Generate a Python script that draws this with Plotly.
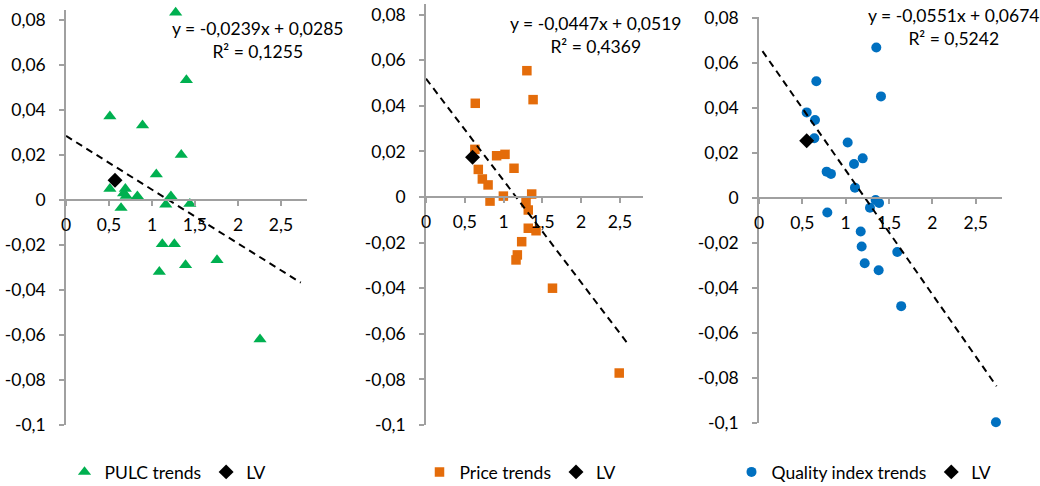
import plotly.graph_objects as go

# ---------------- data ----------------
pulc_x = [1.275, 1.40, 0.51, 0.89, 1.34, 1.05, 0.51, 0.69, 0.70, 0.67, 0.83, 0.64, 1.16, 1.22, 1.44,
          1.12, 1.26, 1.085, 1.39, 1.756, 2.256]
pulc_y = [0.0833, 0.0533, 0.0372, 0.0332, 0.0201, 0.0114, 0.0050, 0.0050, 0.0018, 0.0030, 0.0017,
          -0.0035, -0.0020, 0.0017, -0.0017, -0.0196, -0.0196, -0.0319, -0.0289, -0.0267, -0.0619]
pulc_lv_x = [0.57]
pulc_lv_y = [0.0088]

price_x = [1.30, 1.38, 0.635, 0.63, 0.91, 1.018, 0.674, 1.134, 0.726, 0.80, 0.997, 1.362, 0.825,
           1.289, 1.318, 1.318, 1.418, 1.233, 1.177, 1.16, 1.63, 2.49]
price_y = [0.0554, 0.0427, 0.0411, 0.0209, 0.0181, 0.0187, 0.0121, 0.0126, 0.0079, 0.0053, 0.0004,
           0.0013, -0.0018, -0.0025, -0.0057, -0.0137, -0.0148, -0.0196, -0.0254, -0.0276, -0.0400, -0.0772]
price_lv_x = [0.60]
price_lv_y = [0.0174]

qual_x = [1.353, 1.407, 0.661, 0.55, 0.646, 0.638, 1.023, 1.196, 1.096, 0.78, 0.83, 1.107, 1.345,
          1.385, 1.28, 0.788, 1.173, 1.184, 1.219, 1.38, 1.595, 1.64, 2.733]
qual_y = [0.0668, 0.0451, 0.0518, 0.0380, 0.0346, 0.0265, 0.0246, 0.0176, 0.0151, 0.0117, 0.0107,
          0.0046, -0.0009, -0.0022, -0.0043, -0.0064, -0.0149, -0.0215, -0.0290, -0.0321, -0.0240,
          -0.0480, -0.0995]
qual_lv_x = [0.55]
qual_lv_y = [0.0254]

# trendlines (Excel linear fits shown on chart)
trend_slope = [-0.0239, -0.0447, -0.0551]
trend_icept = [0.0285, 0.0519, 0.0674]
trend_xrange = [[0.0, 2.73], [0.0, 2.59], [0.04, 2.74]]
trend_text = ["y = -0,0239x + 0,0285<br>R² = 0,1255",
              "y = -0,0447x + 0,0519<br>R² = 0,4369",
              "y = -0,0551x + 0,0674<br>R² = 0,5242"]

series_names = ["PULC trends", "Price trends", "Quality index trends"]
lv_name = "LV"

x_tickvals = [0, 0.5, 1, 1.5, 2, 2.5]
x_ticktext = ["0", "0,5", "1", "1,5", "2", "2,5"]
y_tickvals = [-0.1, -0.08, -0.06, -0.04, -0.02, 0, 0.02, 0.04, 0.06, 0.08]
y_ticktext = ["-0,1", "-0,08", "-0,06", "-0,04", "-0,02", "0", "0,02", "0,04", "0,06", "0,08"]

# ---------------- style / layout ----------------
W, H = 1040, 486
FONT = "Lato"
FS = 17.5
AXIS_COLOR = "#A0A0A0"
TEXT_COLOR = "#000000"

colors = ["#00B050", "#E46C0A", "#0070C0"]
symbols = ["triangle-up", "square", "circle"]
msizes = [11.5, 9.5, 10]

# pixel geometry of each panel: x-origin px, px per x unit, y-zero px, px per y unit, ymax
geo = [
    dict(x0=66, xs=86.0, y0=200, ys=2250, ymax=0.0845),
    dict(x0=426, xs=77.6, y0=197, ys=2280, ymax=0.0845),
    dict(x0=759, xs=86.7, y0=198, ys=2253, ymax=0.0805),
]
XMAX, YMIN = 2.8, -0.1

eq_pos = [(257, 40), (595.5, 35), (953, 27)]
legend_cx = [168, 520, 864]

data_sets = [(pulc_x, pulc_y, pulc_lv_x, pulc_lv_y),
             (price_x, price_y, price_lv_x, price_lv_y),
             (qual_x, qual_y, qual_lv_x, qual_lv_y)]

fig = go.Figure()
layout_axes = {}
annotations = []
legends = {}

for i, (sx, sy, lx, ly) in enumerate(data_sets):
    n = "" if i == 0 else str(i + 1)
    xa, ya = "x" + n, "y" + n
    lg = "legend" + n
    g = geo[i]

    fig.add_trace(go.Scatter(
        x=sx, y=sy, mode="markers", name=series_names[i], xaxis=xa, yaxis=ya, legend=lg,
        marker=dict(symbol=symbols[i], size=msizes[i], color=colors[i], line=dict(width=0)),
        cliponaxis=False))
    fig.add_trace(go.Scatter(
        x=lx, y=ly, mode="markers", name=lv_name, xaxis=xa, yaxis=ya, legend=lg,
        marker=dict(symbol="diamond", size=11.5, color="#000000", line=dict(width=0)),
        cliponaxis=False))
    tx = trend_xrange[i]
    ty = [trend_slope[i] * v + trend_icept[i] for v in tx]
    fig.add_trace(go.Scatter(
        x=tx, y=ty, mode="lines", showlegend=False, xaxis=xa, yaxis=ya, hoverinfo="skip",
        line=dict(color="#000000", width=2, dash="7px,5px"), cliponaxis=False))

    xd = [g["x0"] / W, (g["x0"] + XMAX * g["xs"]) / W]
    ybot_px = g["y0"] - YMIN * g["ys"]
    ytop_px = g["y0"] - g["ymax"] * g["ys"]
    yd = [(H - ybot_px) / H, (H - ytop_px) / H]
    xpos = (H - g["y0"]) / H

    layout_axes["xaxis" + n] = dict(
        domain=xd, range=[0, XMAX], anchor="free", position=xpos,
        tickvals=x_tickvals, ticktext=x_ticktext, showgrid=False, zeroline=False,
        showline=True, linecolor=AXIS_COLOR, linewidth=1.5,
        ticks="outside", ticklen=5, tickwidth=1.5, tickcolor=AXIS_COLOR,
        ticklabelstandoff=4, automargin=False,
        tickfont=dict(family=FONT, size=FS, color=TEXT_COLOR), fixedrange=True)
    layout_axes["yaxis" + n] = dict(
        domain=yd, range=[YMIN, g["ymax"]], anchor=xa,
        tickvals=y_tickvals, ticktext=y_ticktext, showgrid=False, zeroline=False,
        showline=True, linecolor=AXIS_COLOR, linewidth=1.5,
        ticks="outside", ticklen=5, tickwidth=1.5, tickcolor=AXIS_COLOR,
        ticklabelstandoff=10, automargin=False,
        tickfont=dict(family=FONT, size=FS, color=TEXT_COLOR), fixedrange=True)

    ex, ey = eq_pos[i]
    annotations.append(dict(
        text=trend_text[i], xref="paper", yref="paper", x=ex / W, y=(H - ey) / H,
        xanchor="center", yanchor="middle", showarrow=False, align="center",
        font=dict(family=FONT, size=FS, color=TEXT_COLOR)))

    legends[lg] = dict(
        orientation="h", x=legend_cx[i] / W, y=-4 / H,
        xanchor="center", yanchor="bottom", bgcolor="rgba(0,0,0,0)",
        font=dict(family=FONT, size=FS, color=TEXT_COLOR),
        itemwidth=30, tracegroupgap=0)

fig.update_layout(
    width=W, height=H,
    margin=dict(l=0, r=0, t=0, b=0, autoexpand=False),
    paper_bgcolor="white", plot_bgcolor="white",
    font=dict(family=FONT, size=FS, color=TEXT_COLOR),
    annotations=annotations,
    **layout_axes, **legends)

fig.write_html("out.html")
